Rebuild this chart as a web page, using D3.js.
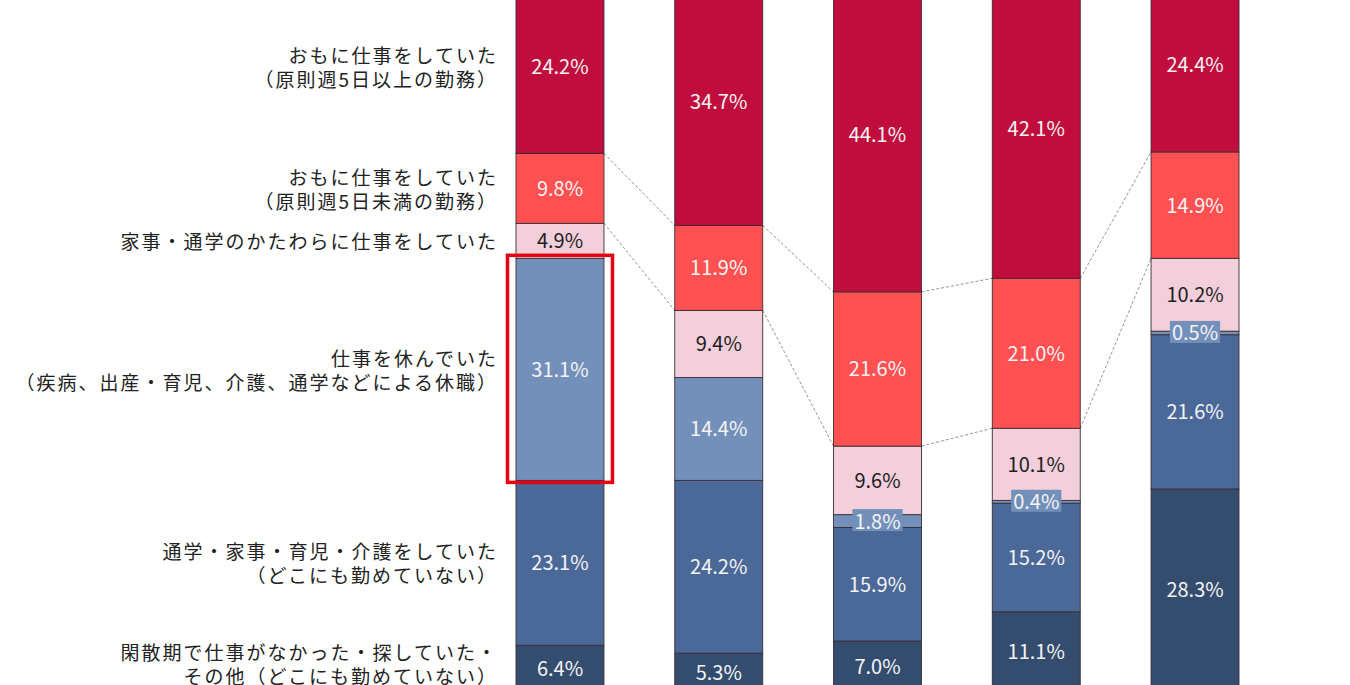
<!DOCTYPE html>
<html>
<head>
<meta charset="utf-8">
<script src="https://cdn.jsdelivr.net/npm/d3@7"></script>
<style>
  body { margin: 0; background: #fff; }
  svg { display: block; font-family: "Noto Sans CJK JP", "Noto Sans", sans-serif; }
</style>
</head>
<body>
<script>
var columns = ["A", "B", "C", "D", "E"];

// series from bottom to top of each stack
var seriesKeys = ["other", "home", "leave", "side", "partTime", "fullTime"];
var seriesLabels = [
  ["閑散期で仕事がなかった・探していた・", "その他（どこにも勤めていない）"],
  ["通学・家事・育児・介護をしていた", "（どこにも勤めていない）"],
  ["仕事を休んでいた", "（疾病、出産・育児、介護、通学などによる休職）"],
  ["家事・通学のかたわらに仕事をしていた"],
  ["おもに仕事をしていた", "（原則週5日未満の勤務）"],
  ["おもに仕事をしていた", "（原則週5日以上の勤務）"]
];
var other    = [6.4, 5.3, 7.0, 11.1, 28.3];
var home     = [23.1, 24.2, 15.9, 15.2, 21.6];
var leave    = [31.1, 14.4, 1.8, 0.4, 0.5];
var side     = [4.9, 9.4, 9.6, 10.1, 10.2];
var partTime = [9.8, 11.9, 21.6, 21.0, 14.9];
var fullTime = [24.2, 34.7, 44.1, 42.1, 24.4];

var colors = ["#344c6e", "#4a6898", "#7390ba", "#f2cfda", "#ff5052", "#c10d3d"];

function init() {
  var w = 1350, h = 685;
  var values = [other, home, leave, side, partTime, fullTime];

  var rows = columns.map(function (c, i) {
    var r = { col: c };
    seriesKeys.forEach(function (k, j) { r[k] = values[j][i]; });
    return r;
  });
  var stacked = d3.stack().keys(seriesKeys)(rows);

  var xScale = d3.scaleBand()
    .domain(columns)
    .range([516, 1239])
    .paddingInner(0.446)
    .paddingOuter(0);
  var yScale = d3.scaleLinear()
    .domain([0, 100])
    .range([691, -23]);

  var svg = d3.select("body").append("svg")
    .attr("width", w)
    .attr("height", h);

  // series lines between bars (top edges of the two red-ish series)
  [4, 3].forEach(function (si) {
    var s = stacked[si];
    for (var i = 0; i < columns.length - 1; i++) {
      svg.append("line")
        .attr("x1", xScale(columns[i]) + xScale.bandwidth())
        .attr("y1", yScale(s[i][1]))
        .attr("x2", xScale(columns[i + 1]))
        .attr("y2", yScale(s[i + 1][1]))
        .attr("stroke", "#777")
        .attr("stroke-width", 0.8)
        .attr("stroke-dasharray", "3,2");
    }
  });

  var groups = svg.selectAll("g.series")
    .data(stacked)
    .enter()
    .append("g")
    .attr("class", "series")
    .attr("fill", function (d, i) { return colors[i]; });

  groups.selectAll("rect")
    .data(function (d) { return d; })
    .enter()
    .append("rect")
    .attr("x", function (d) { return xScale(d.data.col); })
    .attr("y", function (d) { return yScale(d[1]); })
    .attr("width", xScale.bandwidth())
    .attr("height", function (d) { return yScale(d[0]) - yScale(d[1]); })
    .attr("stroke", "#3a2e34")
    .attr("stroke-width", 0.9);

  // value labels
  stacked.forEach(function (s, si) {
    s.forEach(function (d) {
      var v = d[1] - d[0];
      var cx = xScale(d.data.col) + xScale.bandwidth() / 2;
      var cy = (yScale(d[0]) + yScale(d[1])) / 2 - 1;
      var g = svg.append("g");
      var t = g.append("text")
        .attr("x", cx)
        .attr("y", cy)
        .attr("text-anchor", "middle")
        .attr("dominant-baseline", "central")
        .style("font-size", "20px")
        .style("fill", si === 3 ? "#1e1e1e" : "#f4f4f4")
        .text(v.toFixed(1) + "%");
      if (v < 3) {
        var bw = t.node().getComputedTextLength();
        g.insert("rect", "text")
          .attr("x", cx - bw / 2 - 2)
          .attr("y", cy - 11)
          .attr("width", bw + 4)
          .attr("height", 22)
          .attr("fill", colors[2]);
      }
    });
  });

  // highlight box around first column's "leave" segment
  var hl = stacked[2][0];
  svg.append("rect")
    .attr("x", xScale(columns[0]) - 8.5)
    .attr("y", yScale(hl[1]) - 3)
    .attr("width", xScale.bandwidth() + 17)
    .attr("height", yScale(hl[0]) - yScale(hl[1]) + 5)
    .attr("fill", "none")
    .attr("stroke", "#e50012")
    .attr("stroke-width", 3.5);

  // category labels on the left, centred on the first column's segments
  var spacing = 2;
  stacked.forEach(function (s, si) {
    var lines = seriesLabels[si];
    var cy = (yScale(s[0][0]) + yScale(s[0][1])) / 2;
    var lh = 24;
    var y0 = cy - (lines.length - 1) * lh / 2;
    y0 = Math.min(y0, h - 10 - (lines.length - 1) * lh);
    y0 = Math.max(y0, 52);
    lines.forEach(function (line, li) {
      svg.append("text")
        .attr("x", 496 + spacing)
        .attr("y", y0 + li * lh)
        .attr("text-anchor", "end")
        .attr("dominant-baseline", "central")
        .style("font-size", "19px")
        .style("letter-spacing", spacing + "px")
        .style("fill", "#222")
        .text(line);
    });
  });
}
window.onload = init;
</script>
</body>
</html>
